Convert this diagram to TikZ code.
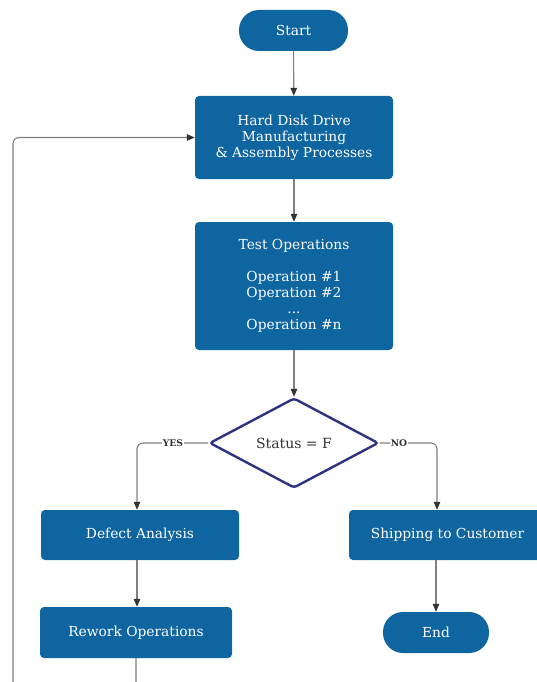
\documentclass[tikz,border=0pt]{standalone}
\usepackage{fontspec}
\setmainfont{DejaVu Serif}
\usetikzlibrary{shapes.geometric,arrows.meta}
\definecolor{boxblue}{HTML}{0E65A0}
\definecolor{navy}{HTML}{2E3282}
\definecolor{linegray}{HTML}{808080}
\definecolor{tipgray}{HTML}{333333}
\begin{document}
\begin{tikzpicture}[x=1pt,y=-1pt,
  box/.style={rectangle, rounded corners=4pt, fill=boxblue, text=white, align=center,
    inner sep=0pt, font=\fontsize{13.8}{16}\selectfont},
  term/.style={box, rounded corners=20pt},
  dec/.style={diamond, draw=navy, line width=2.4pt, fill=white, rounded corners=3pt,
    inner sep=0pt, minimum width=169pt, minimum height=90pt, text=black!80,
    font=\fontsize{14}{16}\selectfont},
  conn/.style={draw=linegray, line width=1.1pt, rounded corners=6pt,
    -{Triangle[length=8pt,width=6.5pt,color=tipgray]}},
  lab/.style={fill=white, inner sep=1pt, text=black!80, font=\fontsize{9.2}{10}\selectfont\bfseries}
]
\useasboundingbox (0,0) rectangle (537,682);
\clip (0,0) rectangle (537,682);
\node[term, minimum width=109pt, minimum height=41pt] (start) at (293.5,30.5) {Start};
\node[box, minimum width=198pt, minimum height=83pt] (hdd) at (294,137.5)
  {Hard Disk Drive\\Manufacturing\\\& Assembly Processes};
\node[box, minimum width=198pt, minimum height=128pt] (test) at (294,286)
  {Test Operations\\[16pt]Operation \#1\\Operation \#2\\...\\Operation \#n};
\node[dec] (d) at (294,443) {Status = F};
\node[box, minimum width=198pt, minimum height=50pt] (defect) at (140,535) {Defect Analysis};
\node[box, minimum width=192pt, minimum height=51pt] (rework) at (136,632.5) {Rework Operations};
\node[box, minimum width=197pt, minimum height=50pt] (ship) at (447.5,535) {Shipping to Customer};
\node[term, minimum width=106pt, minimum height=41pt] (end) at (436,632.5) {End};

\coordinate (yesc) at (137,443);
\coordinate (noc) at (437,443);
\coordinate (lp1) at (136,700);
\coordinate (lp2) at (13,700);
\coordinate (lp3) at (13,137.5);

\draw[conn] (start) -- (hdd);
\draw[conn] (hdd) -- (test);
\draw[conn] (test) -- (d);
\draw[conn] (d.west) -- (yesc) -- (yesc |- defect.north);
\draw[conn] (d.east) -- (noc) -- (noc |- ship.north);
\draw[conn] (defect.south -| 137,0) -- (rework.north -| 137,0);
\draw[conn] (ship.south -| end.north) -- (end.north);
\draw[conn] (rework.south) -- (lp1) -- (lp2) -- (lp3) -- (hdd.west);
\node[lab] (yes) at (173,443) {YES};
\node[lab] (no) at (399,443) {NO};
\end{tikzpicture}
\end{document}
